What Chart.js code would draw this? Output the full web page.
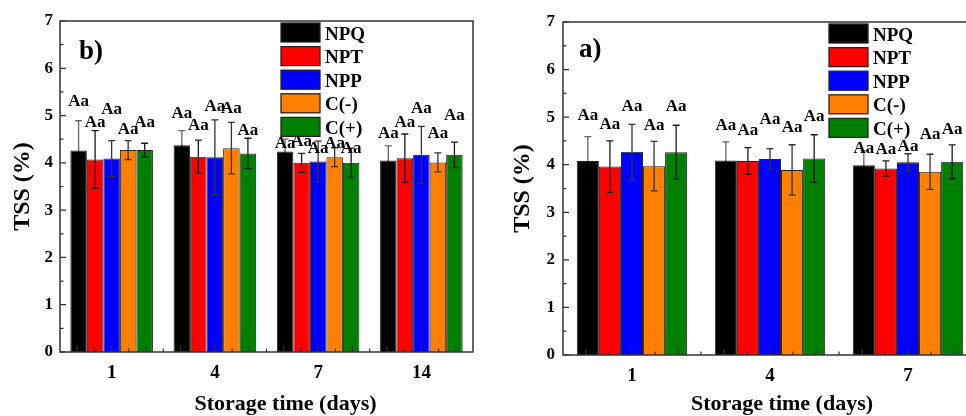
<!DOCTYPE html>
<html><head><meta charset="utf-8">
<script src="https://cdn.jsdelivr.net/npm/chart.js@4.4.0/dist/chart.umd.min.js"></script>
<style>
html,body{margin:0;padding:0;width:966px;height:416px;overflow:hidden;background:#fff;}
#wrapB{position:absolute;left:0;top:0;width:490px;height:416px;}
#wrapA{position:absolute;left:483px;top:0;width:510px;height:416px;}
canvas{display:block;}
</style></head><body>
<div id="wrapB"><canvas id="cB" width="490" height="416" style="width:490px;height:416px"></canvas></div>
<div id="wrapA"><canvas id="cA" width="510" height="416" style="width:510px;height:416px"></canvas></div>
<script>
// ---------- data ----------
const seriesNames = ['NPQ', 'NPT', 'NPP', 'C(-)', 'C(+)'];
const daysB = ['1', '4', '7', '14'];
const daysA = ['1', '4', '7'];
const sigText = 'Aa';
const yAxisTitle = 'TSS (%)';
const xAxisTitle = 'Storage time (days)';

// panel b) means
const npqB = [4.26, 4.37, 4.24, 4.05];
const nptB = [4.07, 4.13, 4.00, 4.10];
const nppB = [4.09, 4.12, 4.03, 4.17];
const cNegB = [4.27, 4.31, 4.12, 4.01];
const cPosB = [4.27, 4.20, 4.00, 4.17];
// panel b) error (+/-)
const npqBErr = [0.63, 0.31, 0.26, 0.31];
const nptBErr = [0.61, 0.35, 0.20, 0.51];
const nppBErr = [0.38, 0.79, 0.43, 0.60];
const cNegBErr = [0.20, 0.545, 0.20, 0.20];
const cPosBErr = [0.145, 0.32, 0.31, 0.27];
// panel b) height of the "Aa" letters (value units)
const npqBSig = [5.29, 5.05, 4.41, 4.61];
const nptBSig = [4.85, 4.78, 4.45, 4.85];
const nppBSig = [5.13, 5.19, 4.30, 5.15];
const cNegBSig = [4.71, 5.14, 4.40, 4.61];
const cPosBSig = [4.86, 4.69, 4.31, 5.00];

// panel a) means
const npqA = [4.08, 4.09, 3.99];
const nptA = [3.96, 4.08, 3.92];
const nppA = [4.27, 4.12, 4.05];
const cNegA = [3.97, 3.89, 3.85];
const cPosA = [4.26, 4.13, 4.06];
// panel a) error (+/-)
const npqAErr = [0.51, 0.39, 0.30];
const nptAErr = [0.54, 0.28, 0.16];
const nppAErr = [0.58, 0.22, 0.18];
const cNegAErr = [0.52, 0.53, 0.37];
const cPosAErr = [0.57, 0.50, 0.355];
// panel a) height of the "Aa" letters (value units)
const npqASig = [5.04, 4.83, 4.33];
const nptASig = [4.85, 4.71, 4.31];
const nppASig = [5.22, 4.94, 4.38];
const cNegASig = [4.82, 4.78, 4.64];
const cPosASig = [5.23, 5.01, 4.73];

// ---------- styling ----------
const FONT = "'Liberation Serif','Times New Roman',serif";
const fillColors = ['#000000', '#ff0000', '#0000ff', '#ff8000', '#008000'];
const errColors = ['#666666', '#1a1a1a', '#333333', '#333333', '#1a1a1a'];
const frameColor = '#333333';

function panelPlugin(p) {
  return {
    id: 'panel' + p.tag,
    afterDatasetsDraw(chart) {
      const ctx = chart.ctx, ys = chart.scales.y;
      ctx.save();
      chart.data.datasets.forEach((ds, i) => {
        const meta = chart.getDatasetMeta(i);
        meta.data.forEach((bar, j) => {
          const m = ds.data[j], e = p.errs[i][j];
          const yt = ys.getPixelForValue(m + e), yb = ys.getPixelForValue(m - e);
          const ym = ys.getPixelForValue(m);
          ctx.lineWidth = 1.3;
          // part above the bar top
          ctx.strokeStyle = errColors[i];
          ctx.beginPath();
          ctx.moveTo(bar.x, yt); ctx.lineTo(bar.x, ym);
          ctx.moveTo(bar.x - 3.5, yt); ctx.lineTo(bar.x + 3.5, yt);
          ctx.stroke();
          // part inside the bar
          ctx.strokeStyle = i === 0 ? '#000' : errColors[i];
          ctx.beginPath();
          ctx.moveTo(bar.x, ym); ctx.lineTo(bar.x, yb);
          ctx.moveTo(bar.x - 3.5, yb); ctx.lineTo(bar.x + 3.5, yb);
          ctx.stroke();
        });
      });
      // significance letters
      ctx.fillStyle = '#000';
      ctx.font = 'bold 17px ' + FONT;
      ctx.textAlign = 'center';
      ctx.textBaseline = 'middle';
      chart.data.datasets.forEach((ds, i) => {
        const meta = chart.getDatasetMeta(i);
        meta.data.forEach((bar, j) => {
          ctx.fillText(sigText, bar.x, ys.getPixelForValue(p.sig[i][j]));
        });
      });
      ctx.restore();
    },
    afterDraw(chart) {
      const ctx = chart.ctx, ca = chart.chartArea, ys = chart.scales.y, xs = chart.scales.x;
      ctx.save();
      // frame
      ctx.strokeStyle = frameColor;
      ctx.lineWidth = 1.5;
      ctx.strokeRect(ca.left, ca.top, ca.right - ca.left, ca.bottom - ca.top);
      // inward y ticks
      ctx.lineWidth = 1.2;
      ctx.beginPath();
      for (let v = 0; v <= 7; v += 0.5) {
        const y = ys.getPixelForValue(v);
        const len = Number.isInteger(v) ? 6 : 3.5;
        ctx.moveTo(ca.left, y); ctx.lineTo(ca.left + len, y);
      }
      // inward x ticks
      const step = (xs.getPixelForValue(1) - xs.getPixelForValue(0)) / 6;
      const c0 = xs.getPixelForValue(0);
      for (let k = -6; k < 40; k++) {
        const x = c0 + k * step;
        if (x <= ca.left + 2 || x >= ca.right - 2) continue;
        const len = (k % 2 === 0) ? 6 : 3.5;
        ctx.moveTo(x, ca.bottom); ctx.lineTo(x, ca.bottom - len);
      }
      ctx.stroke();
      // legend
      ctx.font = 'bold 19px ' + FONT;
      ctx.textAlign = 'left';
      ctx.textBaseline = 'alphabetic';
      seriesNames.forEach((name, i) => {
        const bx = p.legendX, by = p.legendY + i * 23.6;
        ctx.fillStyle = fillColors[i];
        ctx.fillRect(bx, by, 39, 19);
        ctx.strokeStyle = '#222';
        ctx.lineWidth = 1.3;
        ctx.strokeRect(bx, by, 39, 19);
        ctx.fillStyle = '#000';
        ctx.fillText(name, bx + 44, by + 16.5);
      });
      // panel tag
      ctx.font = 'bold 27px ' + FONT;
      ctx.fillText(p.tag, p.tagX, p.tagY);
      // x title
      ctx.font = 'bold 22px ' + FONT;
      ctx.textAlign = 'center';
      ctx.textBaseline = 'middle';
      ctx.fillText(xAxisTitle, (ca.left + ca.right) / 2 + p.titleDx, 404);
      ctx.restore();
    }
  };
}

function makeChart(id, cats, means, errs, sig, geo) {
  const datasets = seriesNames.map((n, i) => ({
    label: n,
    data: means[i],
    backgroundColor: fillColors[i],
    borderColor: '#222',
    borderWidth: 1,
    categoryPercentage: 0.8,
    barPercentage: 1.0
  }));
  return new Chart(document.getElementById(id), {
    type: 'bar',
    data: { labels: cats, datasets },
    options: {
      responsive: false,
      animation: false,
      layout: { padding: { left: 0, top: geo.top, right: geo.right, bottom: 0 } },
      plugins: { legend: { display: false }, tooltip: { enabled: false } },
      scales: {
        x: {
          grid: { display: false, drawTicks: false },
          border: { display: false },
          ticks: { color: '#000', font: { family: FONT, size: 19, weight: 'bold' }, padding: geo.xPad, maxRotation: 0 },
          afterFit(s) { s.height = geo.xH; }
        },
        y: {
          min: 0, max: 7,
          grid: { display: false, drawTicks: false },
          border: { display: false },
          ticks: { stepSize: 1, color: '#000', font: { family: FONT, size: 17, weight: 'bold' }, padding: geo.yPad },
          title: { display: true, text: yAxisTitle, color: '#000', font: { family: FONT, size: 24, weight: 'bold' }, padding: { top: geo.yTitlePad, bottom: 0 } },
          afterFit(s) { s.width = geo.yW; }
        }
      }
    },
    plugins: [panelPlugin({ tag: geo.tag, tagX: geo.tagX, tagY: geo.tagY, errs, sig, legendX: geo.legendX, legendY: geo.legendY, titleDx: geo.titleDx })]
  });
}

makeChart('cB', daysB,
  [npqB, nptB, nppB, cNegB, cPosB],
  [npqBErr, nptBErr, nppBErr, cNegBErr, cPosBErr],
  [npqBSig, nptBSig, nppBSig, cNegBSig, cPosBSig],
  { tag: 'b)', tagX: 79, tagY: 59, top: 21, right: 17, xH: 64, yW: 60, xPad: 10, yPad: 7, yTitlePad: 8, legendX: 281, legendY: 23, titleDx: 19 });

makeChart('cA', daysA,
  [npqA, nptA, nppA, cNegA, cPosA],
  [npqAErr, nptAErr, nppAErr, cNegAErr, cPosAErr],
  [npqASig, nptASig, nppASig, cNegASig, cPosASig],
  { tag: 'a)', tagX: 96, tagY: 57, top: 22, right: 16, xH: 61, yW: 80, xPad: 10, yPad: 8, yTitlePad: 25, legendX: 346, legendY: 24, titleDx: 12 });
</script>
</body></html>
